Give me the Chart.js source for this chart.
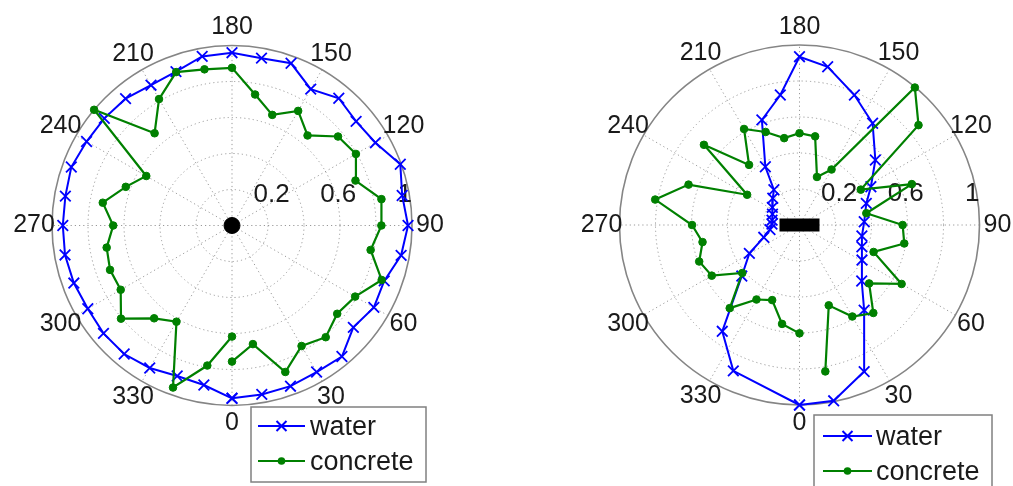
<!DOCTYPE html>
<html><head><meta charset="utf-8">
<script src="https://cdn.jsdelivr.net/npm/chart.js@4.4.1/dist/chart.umd.min.js"></script>
<style>
html,body{margin:0;padding:0;background:#fff;width:1013px;height:486px;overflow:hidden}
canvas{position:absolute;top:0}
#c1{left:0}
#c2{left:516px}
</style></head><body>
<canvas id="c1" width="516" height="486"></canvas>
<canvas id="c2" width="497" height="486"></canvas>
<script>
// ---------- data ----------
const angleTicks = [0, 30, 60, 90, 120, 150, 180, 210, 240, 270, 300, 330];
const radialTicks = [0.2, 0.4, 0.6, 0.8, 1];
const radialLabels = [0.2, 0.6, 1];
const seriesNames = ['water', 'concrete'];

const leftWaterAngles = [0,10,20,30,40,50,60,70,80,90,100,110,120,130,140,150,160,170,180,190,200,210,220,230,240,250,260,270,280,290,300,310,320,330,340,350,360];
const leftWaterR = [0.96,0.953,0.95,0.94,0.95,0.88,0.91,0.90,0.954,0.978,0.96,0.995,0.92,0.90,0.923,0.875,0.959,0.944,0.96,0.954,0.91,0.90,0.92,0.926,0.933,0.95,0.94,0.94,0.942,0.935,0.925,0.932,0.932,0.914,0.89,0.90,0.96];

const leftConcreteAngles = [0,10,20,30,40,50,60,70,80,90,100,110,120,130,140,150,160,170,180,190,200,210,220,230,240,250,260,270,280,290,300,310,320,330,340,350,360];
const leftConcreteR = [0.756,0.669,0.866,0.773,0.81,0.763,0.79,0.885,0.782,0.83,0.843,0.73,0.795,0.769,0.653,0.735,0.654,0.739,0.876,0.881,0.907,0.811,0.669,1.0,0.55,0.628,0.729,0.66,0.707,0.721,0.714,0.805,0.673,0.617,0.958,0.79,0.617];

const rightWaterAngles = [0,11,23.8,37.2,48,60.7,70.8,80,92.9,107.9,118.2,130.6,144.3,157.1,169.9,180,188.4,199.7,210.4,216,225,237,248,260,268,279,289,299.5,311.5,324,335.6,360];
const rightWaterR = [1.0,0.995,0.89,0.594,0.465,0.398,0.367,0.352,0.36,0.39,0.45,0.555,0.696,0.784,0.893,0.935,0.73,0.62,0.375,0.242,0.21,0.18,0.162,0.155,0.153,0.166,0.21,0.32,0.428,0.73,0.89,1.0];

const rightConcreteAngles = [10,20,30,40,50,60,70,80,90,100,110,120,130,140,150,160,170,180,190,200,210,220,230,240,250,260,270,280,290,300,310,320,330,340,350,360];
const rightConcreteR = [0.826,0.475,0.587,0.638,0.505,0.655,0.438,0.591,0.573,0.377,0.664,0.393,0.863,0.997,0.356,0.284,0.50,0.51,0.49,0.55,0.616,0.436,0.693,0.336,0.656,0.814,0.597,0.547,0.593,0.563,0.415,0.603,0.478,0.444,0.558,0.602];

// ---------- helpers ----------
const D2R = Math.PI / 180;
function toXY(angles, radii) {
  return angles.map((a, i) => ({ x: radii[i] * Math.sin(a * D2R), y: -radii[i] * Math.cos(a * D2R) }));
}
const FONT = '"Liberation Sans", Arial, Helvetica, sans-serif';
const BLUE = '#0000ff', GREEN = '#008000';

const polarDecor = {
  id: 'polarDecor',
  beforeDatasetsDraw(chart) {
    const xs = chart.scales.x, ys = chart.scales.y, ctx = chart.ctx;
    const px = (r, a) => ({ x: xs.getPixelForValue(r * Math.sin(a * D2R)), y: ys.getPixelForValue(-r * Math.cos(a * D2R)) });
    const cx = xs.getPixelForValue(0), cy = ys.getPixelForValue(0);
    const R = xs.getPixelForValue(1) - cx;
    ctx.save();
    // dotted rings
    ctx.strokeStyle = '#999999'; ctx.lineWidth = 1; ctx.setLineDash([1.2, 3]);
    radialTicks.forEach(t => {
      if (t < 1) { ctx.beginPath(); ctx.arc(cx, cy, t * R, 0, 2 * Math.PI); ctx.stroke(); }
    });
    // dotted spokes
    angleTicks.forEach(a => {
      if (a < 180) {
        const p1 = px(1, a), p2 = px(1, a + 180);
        ctx.beginPath(); ctx.moveTo(p1.x, p1.y); ctx.lineTo(p2.x, p2.y); ctx.stroke();
      }
    });
    // outer circle
    ctx.setLineDash([]); ctx.strokeStyle = '#858585'; ctx.lineWidth = 1.6;
    ctx.beginPath(); ctx.arc(cx, cy, R, 0, 2 * Math.PI); ctx.stroke();
    // angle labels
    ctx.fillStyle = '#1a1a1a'; ctx.textAlign = 'center'; ctx.textBaseline = 'middle';
    ctx.font = '25px ' + FONT;
    angleTicks.forEach(a => {
      const p = px(1.1, a);
      ctx.fillText(String(a), p.x, p.y);
    });
    // radial labels
    ctx.font = '26px ' + FONT;
    radialLabels.forEach(r => {
      const x = xs.getPixelForValue(0.925 * r + 0.035), y = ys.getPixelForValue(0.172);
      ctx.fillText(String(r), x, y);
    });
    ctx.restore();
  },
  afterDraw(chart) {
    const o = chart.options.plugins.polarDecor;
    const L = o.legend, ctx = chart.ctx;
    ctx.save();
    ctx.fillStyle = '#fff';
    ctx.fillRect(L.x, L.y, L.w, L.h);
    ctx.strokeStyle = '#808080'; ctx.lineWidth = 1.5;
    ctx.strokeRect(L.x, L.y, L.w, L.h);
    const rows = [
      { y: L.row1, color: BLUE, marker: 'x' },
      { y: L.row2, color: GREEN, marker: 'o' }
    ];
    rows.forEach((row, i) => {
      ctx.strokeStyle = row.color; ctx.lineWidth = 2.2;
      ctx.beginPath(); ctx.moveTo(L.lineX0, row.y); ctx.lineTo(L.lineX1, row.y); ctx.stroke();
      const mx = (L.lineX0 + L.lineX1) / 2;
      if (row.marker === 'x') {
        ctx.lineWidth = 2; ctx.beginPath();
        ctx.moveTo(mx - 5, row.y - 5); ctx.lineTo(mx + 5, row.y + 5);
        ctx.moveTo(mx - 5, row.y + 5); ctx.lineTo(mx + 5, row.y - 5); ctx.stroke();
      } else {
        ctx.fillStyle = row.color; ctx.beginPath(); ctx.arc(mx, row.y, 3.8, 0, 2 * Math.PI); ctx.fill();
      }
      ctx.fillStyle = '#1a1a1a'; ctx.font = '27px ' + FONT;
      ctx.textAlign = 'left'; ctx.textBaseline = 'middle';
      ctx.fillText(seriesNames[i], L.textX, row.y + 2);
    });
    ctx.restore();
  }
};

function makeChart(id, W, H, Cx, Cy, R, water, concrete, centerStyle, legend) {
  const datasets = [
    { label: seriesNames[0], data: water, showLine: true, borderColor: BLUE, borderWidth: 2,
      pointStyle: 'crossRot', pointRadius: 7.5, pointBorderColor: BLUE, pointBorderWidth: 1.8,
      pointBackgroundColor: BLUE, tension: 0, order: 2 },
    { label: seriesNames[1], data: concrete, showLine: true, borderColor: GREEN, borderWidth: 2.2,
      pointStyle: 'circle', pointRadius: 3.8, pointBorderColor: GREEN, pointBorderWidth: 1,
      pointBackgroundColor: GREEN, tension: 0, order: 1 },
    Object.assign({ label: 'center', data: [{ x: 0, y: 0 }], showLine: false, order: 0,
      pointBackgroundColor: '#000', pointBorderColor: '#000' }, centerStyle)
  ];
  return new Chart(document.getElementById(id), {
    type: 'scatter',
    data: { datasets },
    options: {
      responsive: false, animation: false, events: [],
      layout: { padding: 0, autoPadding: false },
      plugins: { legend: { display: false }, tooltip: { enabled: false }, polarDecor: { legend } },
      scales: {
        x: { type: 'linear', display: false, min: -Cx / R, max: (W - Cx) / R },
        y: { type: 'linear', display: false, min: -(H - Cy) / R, max: Cy / R }
      }
    },
    plugins: [polarDecor]
  });
}

makeChart('c1', 516, 486, 232, 225.5, 180,
  toXY(leftWaterAngles, leftWaterR), toXY(leftConcreteAngles, leftConcreteR),
  { pointStyle: 'circle', pointRadius: 8 },
  { x: 251, y: 407, w: 175, h: 75, row1: 426, row2: 461, lineX0: 258, lineX1: 305, textX: 310 });

makeChart('c2', 497, 486, 283.5, 225, 180,
  toXY(rightWaterAngles, rightWaterR), toXY(rightConcreteAngles, rightConcreteR),
  { pointStyle: 'line', pointRadius: 20, pointBorderWidth: 13 },
  { x: 298, y: 415, w: 178, h: 90, row1: 436, row2: 471, lineX0: 307, lineX1: 356, textX: 360 });
</script>
</body></html>
